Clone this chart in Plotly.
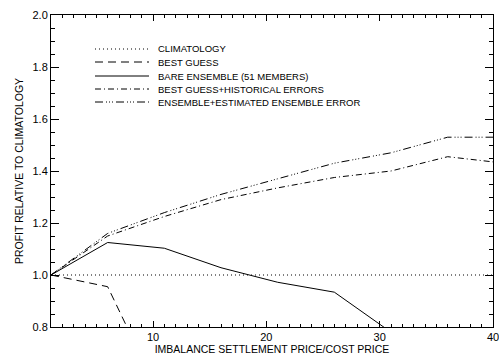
import plotly.graph_objects as go

# ---- data ----
x_clim = [1, 40]
clim = [1.0, 1.0]

x_best = [1, 6, 11]
best_guess = [1.0, 0.955, 0.50]

x_bare = [1, 6, 11, 16, 21, 26, 31]
bare_ens = [1.0, 1.125, 1.103, 1.028, 0.972, 0.934, 0.78]

x_curves = [1, 6, 11, 16, 21, 26, 31, 36, 40]
bg_hist = [1.0, 1.15, 1.225, 1.29, 1.335, 1.375, 1.40, 1.455, 1.435]
ens_est = [1.0, 1.16, 1.24, 1.31, 1.37, 1.43, 1.47, 1.53, 1.53]

labels = ["CLIMATOLOGY", "BEST GUESS", "BARE ENSEMBLE (51 MEMBERS)",
          "BEST GUESS+HISTORICAL ERRORS", "ENSEMBLE+ESTIMATED ENSEMBLE ERROR"]

x_ticks = [10, 20, 30, 40]
y_ticks = [0.8, 1.0, 1.2, 1.4, 1.6, 1.8, 2.0]

# ---- styles ----
dashes = ["1px,3px", "8px,5px", "solid", "6px,3px,1px,3px",
          "8px,3px,1px,2px,1px,2px,1px,3px"]
series = [(x_clim, clim), (x_best, best_guess), (x_bare, bare_ens),
          (x_curves, bg_hist), (x_curves, ens_est)]

FONT = "Liberation Sans, Arial, sans-serif"
fig = go.Figure()
for (xs, ys), lab, d in zip(series, labels, dashes):
    fig.add_trace(go.Scatter(x=xs, y=ys, mode="lines", name=lab,
                             line=dict(color="black", width=1, dash=d),
                             showlegend=False, cliponaxis=True))

# manual legend (inside plot)
L, T, B = 51, 15, 327
H = B - T
W = 493 - L
leg_y = [49, 62, 76, 89, 102]
for py, lab, d in zip(leg_y, labels, dashes):
    yp = (B - py) / H
    fig.add_shape(type="line", xref="paper", yref="paper",
                  x0=(95 - L) / W, x1=(149 - L) / W, y0=yp, y1=yp,
                  line=dict(color="black", width=1, dash=d))
    fig.add_annotation(xref="paper", yref="paper", x=(156 - L) / W, y=yp,
                       text=lab, showarrow=False, xanchor="left", yanchor="middle",
                       font=dict(family=FONT, size=9.5, color="black"))

axis_common = dict(showline=True, linecolor="black", linewidth=1, mirror="ticks",
                   ticks="inside", tickcolor="black", showgrid=False, zeroline=False,
                   ticklabeloverflow="allow", automargin=False,
                   tickfont=dict(family=FONT, size=11, color="black"))

fig.update_layout(
    width=499, height=358,
    margin=dict(l=L, r=499 - 493, t=T, b=358 - B, autoexpand=False),
    paper_bgcolor="white", plot_bgcolor="white",
    xaxis=dict(range=[1, 40], tickvals=x_ticks, ticklen=6,
               minor=dict(dtick=1, tick0=0, ticks="inside", ticklen=3, tickcolor="black"),
               title=dict(text="IMBALANCE SETTLEMENT PRICE/COST PRICE", standoff=2,
                          font=dict(family=FONT, size=10.5, color="black")),
               **axis_common),
    yaxis=dict(range=[0.8, 2.0], tickvals=y_ticks, tickformat=".1f", ticklen=8,
               minor=dict(dtick=0.05, tick0=0, ticks="inside", ticklen=4, tickcolor="black"),
               title=dict(text="PROFIT RELATIVE TO CLIMATOLOGY", standoff=6,
                          font=dict(family=FONT, size=10.5, color="black")),
               **axis_common),
)

fig.write_html("out.html", config={"displayModeBar": False},
               post_script="document.body.style.margin='0';document.body.style.overflow='hidden';")
